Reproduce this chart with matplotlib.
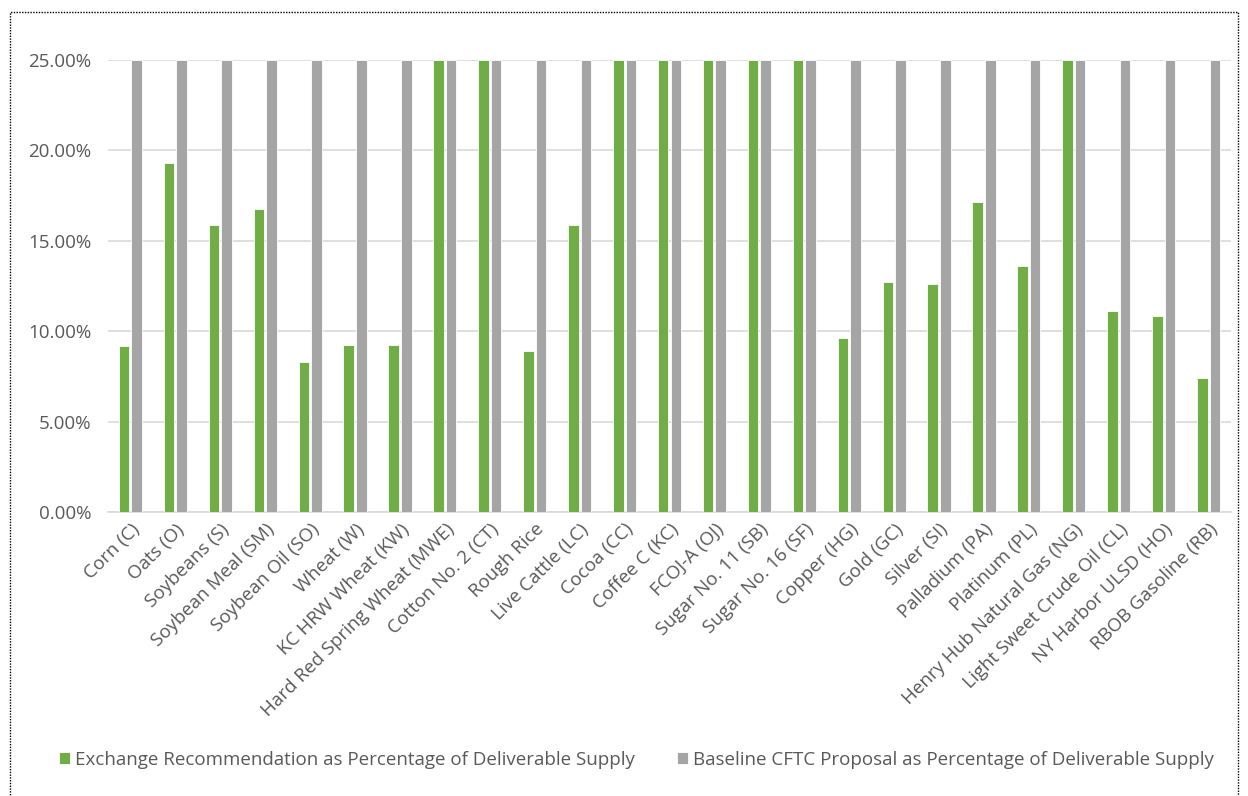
# Exchange recommendation vs baseline CFTC proposal, % of deliverable supply
import numpy as np
import matplotlib.pyplot as plt
from matplotlib.patches import Rectangle
from matplotlib.ticker import FuncFormatter

plt.rcParams['font.family'] = ['Open Sans', 'DejaVu Sans']

contracts = ['Corn (C)', 'Oats (O)', 'Soybeans (S)', 'Soybean Meal (SM)', 'Soybean Oil (SO)',
             'Wheat (W)', 'KC HRW Wheat (KW)', 'Hard Red Spring Wheat (MWE)', 'Cotton No. 2 (CT)',
             'Rough Rice', 'Live Cattle (LC)', 'Cocoa (CC)', 'Coffee C (KC)', 'FCOJ-A (OJ)',
             'Sugar No. 11 (SB)', 'Sugar No. 16 (SF)', 'Copper (HG)', 'Gold (GC)', 'Silver (SI)',
             'Palladium (PA)', 'Platinum (PL)', 'Henry Hub Natural Gas (NG)',
             'Light Sweet Crude Oil (CL)', 'NY Harbor ULSD (HO)', 'RBOB Gasoline (RB)']
exchange = [9.18, 19.3, 15.85, 16.75, 8.28, 9.24, 9.24, 25.0, 25.0, 8.9, 15.85, 25.0, 25.0,
            25.0, 25.0, 25.0, 9.6, 12.7, 12.6, 17.15, 13.6, 25.0, 11.13, 10.84, 7.39]
baseline = [25.0] * 25

green = '#70AD47'
gray = '#A5A5A5'
txt = '#595959'

fig = plt.figure(figsize=(12.48, 7.96), dpi=100)
ax = fig.add_axes([108 / 1248, 1 - 512 / 796, (1231 - 108) / 1248, (512 - 60) / 796])

x = np.arange(len(contracts))
w = 0.235
ax.bar(x - 0.14, exchange, w, color=green, edgecolor='white', linewidth=0.6, zorder=3,
       label='Exchange Recommendation as Percentage of Deliverable Supply')
ax.bar(x + 0.14, baseline, w, color=gray, edgecolor='white', linewidth=0.6, zorder=3,
       label='Baseline CFTC Proposal as Percentage of Deliverable Supply')

ax.set_xlim(-0.5, len(contracts) - 0.5)
ax.set_ylim(0, 25)
ax.set_yticks(np.arange(0, 25.1, 5))
ax.yaxis.set_major_formatter(FuncFormatter(lambda v, p: f'{v:.2f}%'))
ax.grid(axis='y', color='#D9D9D9', linewidth=1.2, zorder=0)
for s in ['top', 'right', 'left']:
    ax.spines[s].set_visible(False)
ax.spines['bottom'].set_color('#D9D9D9')
ax.spines['bottom'].set_linewidth(1.2)
ax.tick_params(length=0, colors=txt, labelsize=13.5)
ax.tick_params(axis='y', pad=12)
ax.tick_params(axis='x', pad=6)
ax.set_xticks(x)
ax.set_xticklabels(contracts, rotation=45, ha='right', rotation_mode='anchor')

fig.legend(loc='center', bbox_to_anchor=(0.51, 36 / 796), ncol=2, frameon=False,
           fontsize=13.5, labelcolor=txt, handlelength=0.6, handleheight=0.6,
           handletextpad=0.3, columnspacing=2.2)

# dotted border round the chart area
fig.patches.append(Rectangle((10 / 1248, -0.05), 1228 / 1248, 1.05 - 12 / 796,
                             transform=fig.transFigure, fill=False, edgecolor='black',
                             linestyle=(0, (1, 1)), linewidth=1))

fig.savefig('out.png', dpi=100)
